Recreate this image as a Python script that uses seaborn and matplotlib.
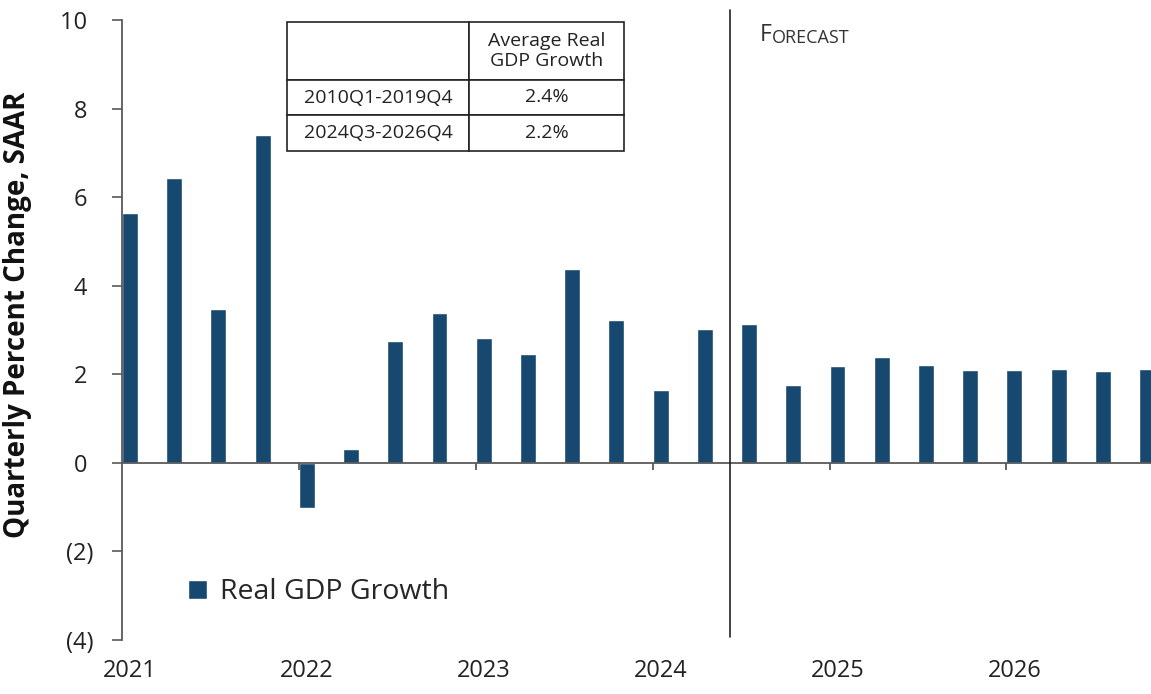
import matplotlib
matplotlib.use("Agg")
import matplotlib.pyplot as plt
import seaborn as sns
import pandas as pd

# quarterly real GDP growth, SAAR (2024Q3 onward is forecast)
quarters = [f"{y}Q{q}" for y in range(2021, 2027) for q in range(1, 5)]
gdp_growth = [5.65, 6.44, 3.47, 7.41,
              -1.01, 0.32, 2.75, 3.38,
              2.82, 2.45, 4.37, 3.22,
              1.64, 3.02, 3.13, 1.76,
              2.18, 2.39, 2.21, 2.09,
              2.09, 2.12, 2.07, 2.12]
years = ["2021", "2022", "2023", "2024", "2025", "2026"]
forecast_start = "2024Q3"

table_rows = ["2010Q1-2019Q4", "2024Q3-2026Q4"]
table_values = ["2.4%", "2.2%"]
table_header = "Average Real\nGDP Growth"

df = pd.DataFrame({"Quarter": quarters, "Growth": gdp_growth})

sns.set_style("white")
plt.rcParams["font.family"] = ["Open Sans", "DejaVu Sans"]

bar_color = "#17486f"
axis_color = "#595959"
bar_w = 0.36

fig = plt.figure(figsize=(11.51, 6.94), dpi=100)
ax = fig.add_axes([122 / 1151, 1 - 640 / 694, 1 - 122 / 1151, 620 / 694])

sns.barplot(data=df, x="Quarter", y="Growth", color=bar_color, width=bar_w,
            saturation=1, ax=ax, label="Real GDP Growth", zorder=2)

ax.set_xlim(-bar_w / 2, len(quarters) - 1 - bar_w / 2 + 0.27)
ax.set_ylim(-4, 10)

# y axis, accounting style: negatives in brackets, positives padded where the ")" would be
yticks = list(range(-4, 11, 2))
ax.set_yticks(yticks)
ax.set_yticklabels([f"({abs(v)})" if v < 0 else f"{v}\u2008" for v in yticks])
ax.tick_params(axis="y", direction="out", length=7, width=1.2, color=axis_color,
               labelsize=17, pad=13.5, labelcolor="#222222", left=True)
for s in ["top", "right", "bottom"]:
    ax.spines[s].set_visible(False)
ax.spines["left"].set_color(axis_color)
ax.spines["left"].set_linewidth(1.3)

# x labels at bottom, centred on each Q1 bar
q1_pos = [quarters.index(f"{y}Q1") for y in years]
ax.set_xticks(q1_pos)
ax.set_xticklabels(years)
ax.tick_params(axis="x", length=0, labelsize=17, pad=14, labelcolor="#222222")
ax.set_xlabel("")
ax.set_ylabel("Quarterly Percent Change, SAAR", fontsize=20, fontweight="bold",
              color="#111111")
ax.yaxis.set_label_coords(-0.087, 0.524)

# zero line with year-boundary ticks
ax.axhline(0, color=axis_color, lw=1.3, zorder=3)
ax.vlines([p - bar_w / 2 for p in q1_pos[1:]], -0.17, 0, color=axis_color, lw=1.3, zorder=3)

# forecast divider
fpos = quarters.index(forecast_start) - 0.5 + 0.065
ax.axvline(fpos, ymin=0.005, ymax=1.016, color="#222222", lw=1.2, clip_on=False, zorder=3)
tF = ax.text(fpos + 0.68, 9.53, "F", fontsize=16.5, color="#333333", va="baseline")
ax.annotate("ORECAST", xy=(1, 0), xycoords=tF, xytext=(0.5, 0), textcoords="offset points",
            fontsize=13, color="#333333", va="bottom")

# summary table
tbl = ax.table(cellText=[["", table_header]] + [[r, v] for r, v in zip(table_rows, table_values)],
               cellLoc="center", colWidths=[182 / 1029, 155 / 1029],
               bbox=[(287 - 122) / 1029, (640 - 151) / 620, 337 / 1029, 129 / 620])
tbl.auto_set_font_size(False)
tbl.set_fontsize(14)
heights = [58 / 620, 35 / 620, 36 / 620]
for (r, c), cell in tbl.get_celld().items():
    cell.set_linewidth(1.2)
    cell.set_edgecolor("#222222")
    cell.set_height(heights[r])
    cell.get_text().set_color("#222222")

leg = ax.legend(loc="center left", bbox_to_anchor=(0.064, 0.077), frameon=False,
                fontsize=20.5, handlelength=0.68, handleheight=0.68, handletextpad=0.45,
                borderpad=0, borderaxespad=0)

fig.savefig("out.png", dpi=100)
